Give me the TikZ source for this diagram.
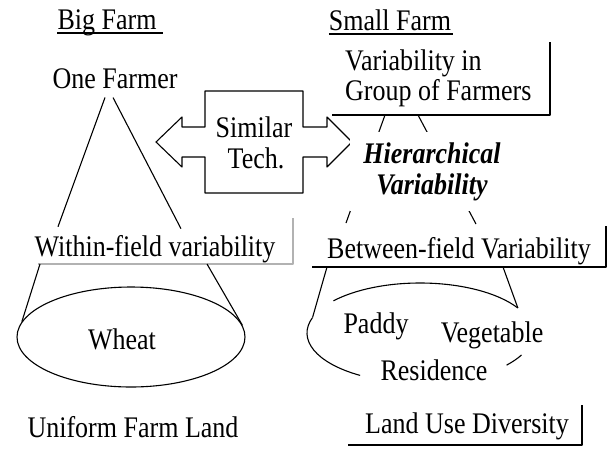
\documentclass[tikz,border=0pt]{standalone}
\usepackage{fontspec}
\setmainfont{Liberation Serif}
\usetikzlibrary{shapes.geometric, calc}

\begin{document}
\begin{tikzpicture}[x=1pt,y=1pt,line join=round]
  \tikzstyle{lbl}=[anchor=base,inner sep=0pt,yscale=1.15,
                   font=\fontsize{26}{27}\selectfont]
  \tikzstyle{thinline}=[line width=1.1pt]
  \tikzstyle{blackbar}=[line width=2.6pt]
  \tikzstyle{graybar}=[line width=2.2pt,draw=gray!60]
  \useasboundingbox (0,0) rectangle (614,-448);

  % headings
  \node[lbl] (bigfarm)   at (107,-29)  {Big Farm};
  \node[lbl] (smallfarm) at (390,-30)  {Small Farm};
  \draw[line width=1.4pt] ([yshift=-4pt]bigfarm.base west)
        -- ([xshift=6pt,yshift=-4pt]bigfarm.base east);
  \draw[line width=1.4pt] ([yshift=-4pt]smallfarm.base west)
        -- ([xshift=2pt,yshift=-4pt]smallfarm.base east);

  % big farm side
  \node[lbl] (farmer)    at (115,-88)  {One Farmer};
  \node[lbl] (within)    at (155,-256) {Within-field variability};
  \node[lbl] (wheat)     at (122,-349) {Wheat};
  \node[lbl] (uniform)   at (133,-437) {Uniform Farm Land};
  \node[draw,ellipse,thinline,inner sep=0pt,minimum width=228pt,
        minimum height=100pt] (wheatfield) at (131,-337) {};
  \coordinate (withinSW) at (38,-264);
  \coordinate (withinNE) at (293,-218);
  \draw[graybar] (withinSW) -| (withinNE);

  \draw[thinline] ($(farmer.south)+(-10,-9)$) -- ($(within.north)+(-97,8)$);
  \draw[thinline] ($(farmer.south)+(-2,-9)$)  -- ($(within.north)+(26,6)$);
  \draw[thinline] ($(withinSW)+(2,0)$)   -- (wheatfield.172);
  \draw[thinline] ($(withinSW)+(169,0)$) -- (wheatfield.6);

  % similar technology
  \coordinate (simtech) at (254,-142);
  \draw[thinline] ([shift={(-49,51)}]simtech) -- ++(98,0) -- ++(0,-36)
        -- ++(24,0) -- ++(0,10) -- ++(25,-25) -- ++(-25,-25) -- ++(0,10)
        -- ++(-24,0) -- ++(0,-36) -- ++(-98,0) -- ++(0,36) -- ++(-23,0)
        -- ++(0,-10) -- ++(-26,25) -- ++(26,25) -- ++(0,-10) -- ++(23,0)
        -- cycle;
  \node[lbl] (similar) at (254,-137) {Similar};
  \node[lbl] (tech)    at (256,-168) {Tech.};

  % small farm side
  \node[lbl,anchor=base west] (group1) at (345,-70)  {Variability in};
  \node[lbl,anchor=base west] (group2) at (345,-100) {Group of Farmers};
  \coordinate (groupSW) at (332,-115);
  \coordinate (groupNE) at (550,-42);
  \draw[blackbar] (groupSW) -| (groupNE);

  \node[lbl] (between) at (459,-258) {Between-field Variability};
  \coordinate (betweenSW) at (312,-267);
  \coordinate (betweenNE) at (606,-226);
  \draw[blackbar] (betweenSW) -| (betweenNE);

  \draw[thinline] ($(groupSW)+(53,0)$) -- ($(betweenSW)+(34,44)$);
  \draw[thinline] ($(groupSW)+(86,0)$) -- ($(betweenSW)+(164,43)$);
  \node[lbl,anchor=north,align=center,fill=white,inner xsep=13pt,
        inner ysep=9pt,font=\fontsize{26}{27}\selectfont\bfseries\itshape]
        (hier) at (432,-132) {Hierarchical\\Variability};

  % land use
  \coordinate (mixfield) at (420,-333);
  \path (mixfield) +(30:113 and 50) coordinate (luR)
                   +(162:113 and 50) coordinate (luL)
                   +(-40:113 and 50) coordinate (luBR);
  \draw[thinline] (luR) arc[start angle=30,end angle=140,x radius=113,y radius=50];
  \draw[thinline] (luL) arc[start angle=162,end angle=238,x radius=113,y radius=50];
  \draw[thinline] (luBR) arc[start angle=-40,end angle=-26,x radius=113,y radius=50];
  \draw[thinline] ($(betweenSW)+(15,0)$)  -- (luL);
  \draw[thinline] ($(betweenSW)+(191,0)$) -- (luR);

  \node[lbl] (paddy)     at (376,-333) {Paddy};
  \node[lbl] (vegetable) at (492,-342) {Vegetable};
  \node[lbl] (residence) at (434,-380) {Residence};

  \node[lbl] (diversity) at (467,-433) {Land Use Diversity};
  \coordinate (landSW) at (348,-445);
  \coordinate (landNE) at (582,-405);
  \draw[blackbar] (landSW) -| (landNE);
\end{tikzpicture}
\end{document}
